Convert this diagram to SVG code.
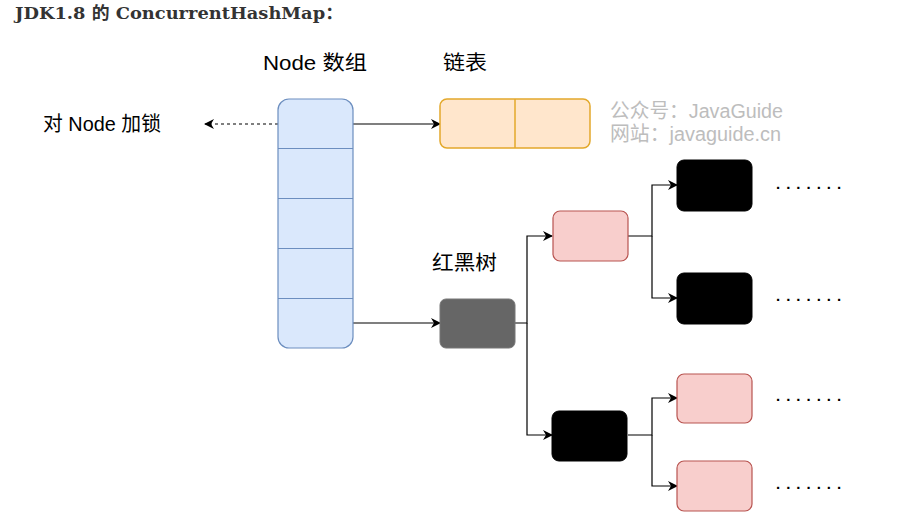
<svg xmlns="http://www.w3.org/2000/svg" width="922" height="527" viewBox="0 0 922 527">
<defs>
<marker id="ah" viewBox="0 0 10 10" refX="9" refY="5" markerWidth="10" markerHeight="10" markerUnits="userSpaceOnUse" orient="auto">
<path d="M0,0 L10,5 L0,10 L3,5 Z" fill="#000"/>
</marker>
</defs>
<style>
text{font-family:"Liberation Sans","Noto Sans CJK SC",sans-serif;}
.lbl{font-size:20.5px;fill:#000;}
.wm{font-size:20px;fill:#bdbdbd;}
.dots{font-size:15px;font-weight:bold;fill:#000;letter-spacing:6px;}
.ln{fill:none;stroke:#000;stroke-width:1.2;}
.pink{fill:#f8cecc;stroke:#b85450;stroke-width:1.2;}
.blk{fill:#000;stroke:#000;stroke-width:1;}
</style>
<rect width="922" height="527" fill="#fff"/>
<text x="15" y="18.5" textLength="328" lengthAdjust="spacingAndGlyphs" style="font-family:'DejaVu Serif','Noto Sans CJK SC',serif;font-size:17px;font-weight:bold;fill:#333">JDK1.8 的 ConcurrentHashMap：</text>

<text class="lbl" x="263" y="70" textLength="104" lengthAdjust="spacingAndGlyphs">Node 数组</text>
<text class="lbl" x="443" y="70" textLength="44" lengthAdjust="spacingAndGlyphs">链表</text>
<text class="lbl" x="43" y="131" textLength="118" lengthAdjust="spacingAndGlyphs">对 Node 加锁</text>
<text class="lbl" x="432" y="270" textLength="65" lengthAdjust="spacingAndGlyphs">红黑树</text>
<text class="wm" x="610" y="118" textLength="173" lengthAdjust="spacingAndGlyphs">公众号：JavaGuide</text>
<text class="wm" x="610" y="141" textLength="171" lengthAdjust="spacingAndGlyphs">网站：javaguide.cn</text>

<g id="connectors">
<line class="ln" x1="278" y1="124" x2="205" y2="124" stroke-dasharray="3,3" marker-end="url(#ah)"/>
<line class="ln" x1="353" y1="124" x2="440" y2="124" marker-end="url(#ah)"/>
<line class="ln" x1="353" y1="323" x2="440" y2="323" marker-end="url(#ah)"/>
<path class="ln" d="M515,323 H527 V236 H552" marker-end="url(#ah)"/>
<path class="ln" d="M527,323 V435 H552" marker-end="url(#ah)"/>
<path class="ln" d="M628,236 H652 V185 H677" marker-end="url(#ah)"/>
<path class="ln" d="M652,236 V298 H677" marker-end="url(#ah)"/>
<path class="ln" d="M628,435 H652 V398 H677" marker-end="url(#ah)"/>
<path class="ln" d="M652,435 V486 H677" marker-end="url(#ah)"/>
</g>

<g id="node-array">
<rect x="278" y="99" width="75" height="249" rx="11" fill="#dae8fc" stroke="#6c8ebf" stroke-width="1.2"/>
<line x1="278" y1="148.5" x2="353" y2="148.5" stroke="#6c8ebf" stroke-width="1.2"/>
<line x1="278" y1="198.5" x2="353" y2="198.5" stroke="#6c8ebf" stroke-width="1.2"/>
<line x1="278" y1="248.5" x2="353" y2="248.5" stroke="#6c8ebf" stroke-width="1.2"/>
<line x1="278" y1="298.5" x2="353" y2="298.5" stroke="#6c8ebf" stroke-width="1.2"/>
</g>

<g id="linked-list">
<rect x="440" y="99" width="150" height="49" rx="7" fill="#ffe6cc" stroke="#e3a82b" stroke-width="1.5"/>
<line x1="515" y1="99" x2="515" y2="148" stroke="#e3a82b" stroke-width="1.5"/>
</g>

<g id="tree-root"><rect x="440" y="299" width="75" height="49" rx="6" fill="#666" stroke="#777" stroke-width="1"/></g>
<g id="tree-l1-red"><rect class="pink" x="553" y="211" width="75" height="50" rx="7"/></g>
<g id="tree-l1-black"><rect class="blk" x="552" y="411" width="75" height="50" rx="7"/></g>
<g id="tree-l2-a"><rect class="blk" x="677" y="160" width="75" height="51" rx="7"/></g>
<g id="tree-l2-b"><rect class="blk" x="677" y="273" width="75" height="51" rx="7"/></g>
<g id="tree-l2-c"><rect class="pink" x="677" y="374" width="75" height="49" rx="7"/></g>
<g id="tree-l2-d"><rect class="pink" x="677" y="461" width="75" height="50" rx="7"/></g>

<text class="dots" x="776" y="189">.......</text>
<text class="dots" x="776" y="301">.......</text>
<text class="dots" x="776" y="401">.......</text>
<text class="dots" x="776" y="489">.......</text>
</svg>
